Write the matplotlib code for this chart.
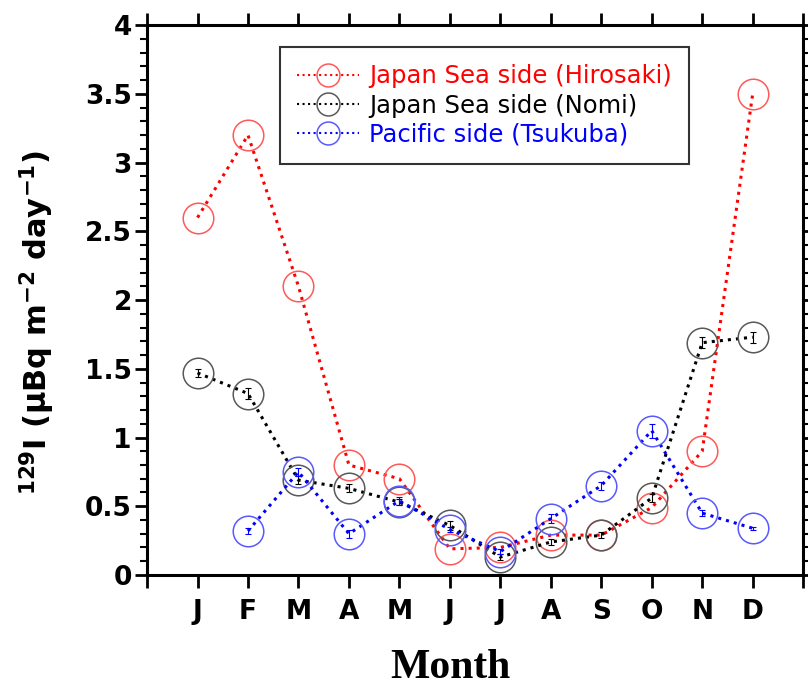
import matplotlib.pyplot as plt
import numpy as np

months = ['J', 'F', 'M', 'A', 'M', 'J', 'J', 'A', 'S', 'O', 'N', 'D']

# Japan Sea side (Hirosaki)
hirosaki = [2.6, 3.2, 2.1, 0.8, 0.7, 0.19, 0.2, 0.29, 0.29, 0.49, 0.9, 3.5]
# Japan Sea side (Nomi)
nomi = [1.47, 1.32, 0.69, 0.63, 0.53, 0.36, 0.13, 0.24, 0.29, 0.56, 1.69, 1.73]
nomi_err = [0.03, 0.04, 0.03, 0.03, 0.02, 0.03, 0.02, 0.02, 0.02, 0.03, 0.04, 0.04]
# Pacific side (Tsukuba), no January sample
tsukuba = [np.nan, 0.32, 0.75, 0.30, 0.54, 0.33, 0.17, 0.41, 0.65, 1.05, 0.45, 0.34]
tsukuba_err = [0, 0.02, 0.03, 0.03, 0.03, 0.02, 0.02, 0.03, 0.03, 0.05, 0.02, 0.01]

x = np.arange(len(months))

fig = plt.figure(figsize=(8.08, 6.89), dpi=100)
ax = fig.add_axes([0.182, 0.1655, 0.812, 0.798])

def draw(y, color, edge, label, yerr=None):
    if yerr is not None:
        ax.errorbar(x, y, yerr=yerr, fmt='none', ecolor=color, elinewidth=0.8,
                    capsize=2.5, capthick=0.8, zorder=2)
    ax.plot(x, y, linestyle=':', color=color, lw=2.2, marker='o', markersize=22,
            markerfacecolor='none', markeredgecolor=edge, markeredgewidth=1.1,
            label=label, zorder=3)

draw(hirosaki, 'red', (1, 0.35, 0.35), 'Japan Sea side (Hirosaki)')
draw(nomi, 'black', (0.35, 0.35, 0.35), 'Japan Sea side (Nomi)', nomi_err)
draw(tsukuba, 'blue', (0.35, 0.35, 1), 'Pacific side (Tsukuba)', tsukuba_err)

ax.set_xlim(-1, 12)
ax.set_ylim(0, 4)

ax.set_xticks(np.arange(-1, 13))
ax.set_xticklabels([''] + months + [''])
ax.set_yticks(np.arange(0, 4.01, 0.5))
ax.set_yticklabels(['0', '0.5', '1', '1.5', '2', '2.5', '3', '3.5', '4'])
ax.set_yticks(np.arange(0, 4.01, 0.1), minor=True)

ax.tick_params(axis='x', which='major', direction='out', length=9, width=2,
               top=True, labelsize=19, pad=8)
ax.tick_params(axis='y', which='major', direction='out', length=9, width=2,
               right=True, labelsize=19, pad=2)
ax.tick_params(axis='y', which='minor', direction='out', length=5, width=1.5,
               right=True)
for lab in ax.get_xticklabels() + ax.get_yticklabels():
    lab.set_fontweight('bold')

for s in ax.spines.values():
    s.set_linewidth(2.2)

ax.set_ylabel(r'$\mathbf{^{129}}$I ($\mathbf{\mu}$Bq m$\mathbf{^{-2}}$ day$\mathbf{^{-1}}$)',
              fontsize=22, fontweight='bold')
ax.yaxis.set_label_coords(-0.137, 0.46)
ax.set_xlabel('Month', fontsize=30, fontweight='bold', family='Liberation Serif')
ax.xaxis.set_label_coords(0.463, -0.135)

leg = ax.legend(loc='upper left', bbox_to_anchor=(0.203, 0.96), borderaxespad=0,
                fontsize=17.5, frameon=True, fancybox=False, edgecolor='black',
                handlelength=2.55, handletextpad=0.4, borderpad=0.7,
                labelspacing=0.22, markerscale=0.75)
leg.get_frame().set_linewidth(1.5)
for t, c in zip(leg.get_texts(), ['red', 'black', 'blue']):
    t.set_color(c)
for h in leg.get_lines():
    h.set_linewidth(1.5)

fig.savefig('out.png', dpi=100)
